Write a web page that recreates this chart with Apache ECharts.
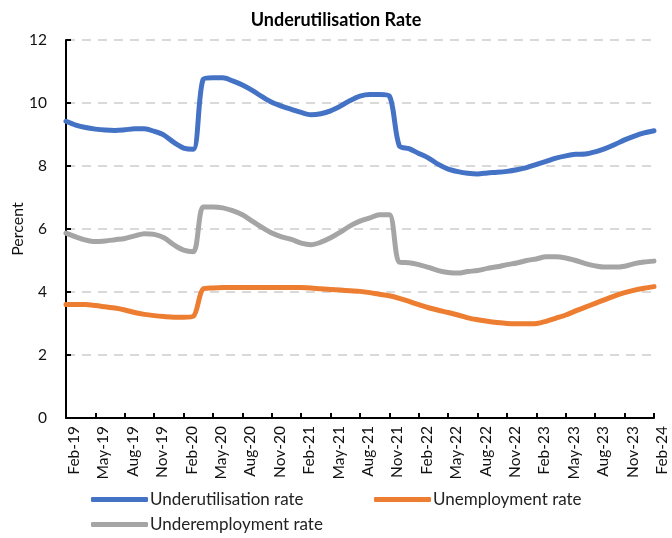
<!DOCTYPE html>
<html>
<head>
<meta charset="utf-8">
<script src="https://cdn.jsdelivr.net/npm/echarts@6/dist/echarts.min.js"></script>
<style>
  html, body { margin: 0; padding: 0; background: #fff; }
  #chart { width: 672px; height: 538px; }
</style>
</head>
<body>
<div id="chart"></div>
<script>
// Monthly labels, Feb-19 through Feb-24
const monthNames = ['Jan','Feb','Mar','Apr','May','Jun','Jul','Aug','Sep','Oct','Nov','Dec'];
const startYear = 2019, startMonth = 1, monthCount = 61;
const categories = [];
for (let i = 0; i < monthCount; i++) {
  const m = (startMonth + i) % 12;
  const y = startYear + Math.floor((startMonth + i) / 12);
  categories.push(monthNames[m] + '-' + String(y).slice(2));
}

const yTicks = [0, 2, 4, 6, 8, 10, 12];

const underutilisation = [
  9.42, 9.30, 9.22, 9.17, 9.14, 9.13, 9.15, 9.18, 9.18, 9.10, 8.98, 8.75, 8.57,
  8.53, 10.75, 10.80, 10.80, 10.70, 10.57, 10.40, 10.20, 10.02, 9.90, 9.80, 9.70,
  9.63, 9.66, 9.75, 9.90, 10.08, 10.22, 10.27, 10.27, 10.22, 8.65, 8.55, 8.40,
  8.25, 8.05, 7.90, 7.82, 7.77, 7.75, 7.78, 7.80, 7.83, 7.88, 7.95, 8.05,
  8.15, 8.25, 8.32, 8.37, 8.38, 8.45, 8.55, 8.68, 8.83, 8.95, 9.05, 9.12
];

const unemployment = [
  3.60, 3.60, 3.60, 3.57, 3.53, 3.49, 3.43, 3.35, 3.29, 3.25, 3.22, 3.20, 3.20,
  3.23, 4.10, 4.13, 4.14, 4.14, 4.14, 4.14, 4.14, 4.14, 4.14, 4.14, 4.14,
  4.13, 4.10, 4.08, 4.06, 4.04, 4.02, 3.98, 3.93, 3.88, 3.80, 3.70, 3.60,
  3.50, 3.42, 3.35, 3.27, 3.18, 3.12, 3.07, 3.03, 3.00, 2.99, 2.99, 3.00,
  3.07, 3.17, 3.27, 3.40, 3.52, 3.64, 3.76, 3.88, 3.98, 4.06, 4.12, 4.17
];

const underemployment = [
  5.87, 5.75, 5.65, 5.60, 5.62, 5.66, 5.70, 5.78, 5.85, 5.83, 5.72, 5.50, 5.33,
  5.28, 6.70, 6.70, 6.67, 6.58, 6.45, 6.25, 6.05, 5.87, 5.75, 5.67, 5.55,
  5.50, 5.58, 5.72, 5.90, 6.10, 6.25, 6.35, 6.45, 6.45, 4.95, 4.93, 4.87,
  4.78, 4.68, 4.62, 4.60, 4.65, 4.68, 4.75, 4.80, 4.87, 4.92, 5.00, 5.05,
  5.12, 5.12, 5.08, 5.00, 4.90, 4.83, 4.79, 4.79, 4.82, 4.90, 4.95, 4.98
];

const seriesNames = ['Underutilisation rate', 'Unemployment rate', 'Underemployment rate'];
const seriesColors = ['#4472C4', '#ED7D31', '#A5A5A5'];
const seriesData = [underutilisation, unemployment, underemployment];

const FONT = 'Lato, "Open Sans", sans-serif';
const chart = echarts.init(document.getElementById('chart'), null, { renderer: 'canvas' });

// one legend block per entry, laid out in two rows under the axis
const legendSlots = [
  { left: 86, top: 486 },
  { left: 369, top: 486 },
  { left: 86, top: 511 }
];

chart.setOption({
  animation: false,
  backgroundColor: '#ffffff',
  title: {
    text: 'Underutilisation Rate',
    left: 'center',
    top: 6,
    textStyle: { fontFamily: FONT, fontSize: 18, fontWeight: 'bold', color: '#000' }
  },
  legend: seriesNames.map((name, i) => ({
    data: [name],
    left: legendSlots[i].left,
    top: legendSlots[i].top,
    icon: 'roundRect', itemWidth: 57, itemHeight: 5,
    textStyle: { fontFamily: FONT, fontSize: 17, color: '#222', padding: [0, 0, 0, -3] }
  })),
  grid: { left: 66, right: 18, top: 40, bottom: 120, containLabel: false, outerBoundsMode: 'none' },
  xAxis: {
    type: 'category',
    data: categories,
    boundaryGap: false,
    axisLine: { lineStyle: { color: '#000', width: 2 } },
    axisTick: { inside: true, length: 5, interval: 2, lineStyle: { color: '#000', width: 2 } },
    axisLabel: {
      interval: 2, rotate: 90, margin: 8,
      verticalAlign: 'top',
      fontFamily: FONT, fontSize: 15.5, color: '#111'
    },
    splitLine: { show: false }
  },
  yAxis: {
    type: 'value',
    min: yTicks[0], max: yTicks[yTicks.length - 1], interval: 2,
    name: 'Percent', nameLocation: 'middle', nameRotate: 90, nameGap: 40,
    nameMoveOverlap: false,
    nameTextStyle: { fontFamily: FONT, fontSize: 16, color: '#111' },
    axisLine: { show: true, lineStyle: { color: '#000', width: 2 } },
    axisTick: { show: true, inside: true, length: 5, lineStyle: { color: '#000', width: 2 } },
    axisLabel: { margin: 19, fontFamily: FONT, fontSize: 15.5, color: '#111' },
    splitLine: { show: true, lineStyle: { color: '#D9D9D9', width: 2, type: [9, 7] } }
  },
  series: seriesNames.map((name, i) => ({
    name: name,
    type: 'line',
    data: seriesData[i],
    smooth: 0.3,
    symbol: 'none',
    color: seriesColors[i],
    lineStyle: { width: 5, color: seriesColors[i], cap: 'round', join: 'round' },
    z: 3 - i
  }))
});
</script>
</body>
</html>
